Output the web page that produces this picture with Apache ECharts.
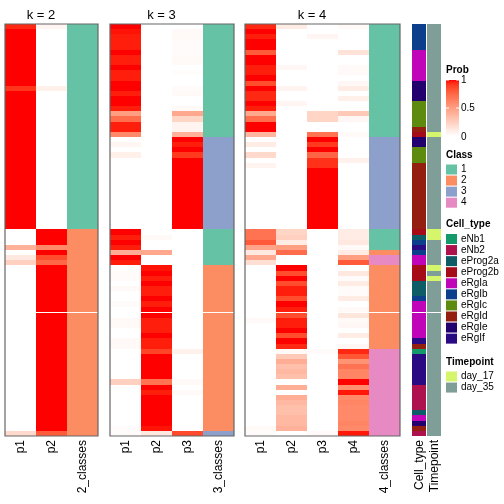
<!DOCTYPE html>
<html><head><meta charset="utf-8">
<script src="https://cdn.jsdelivr.net/npm/echarts@6/dist/echarts.min.js"></script>
<style>html,body{margin:0;padding:0;background:#fff}#c{width:504px;height:504px}</style>
</head><body><div id="c"></div>
<script>
// ---------- data ----------
const k2Cols = ['p1', 'p2', '2_classes'];
const k3Cols = ['p1', 'p2', 'p3', '3_classes'];
const k4Cols = ['p1', 'p2', 'p3', 'p4', '4_classes'];
const annCols = ['Cell_type', 'Timepoint'];
const panelTitles = ['k = 2', 'k = 3', 'k = 4'];

const k2_p1 = [0.95,1,1,1,1,1,1,1,1,1, 1,1,0.92,1,1,1,1,1,1,1, 1,1,1,1,1,1,1,1,1,1, 1,1,1,1,1,1,1,1,1,1,
  0,0,0,0.4,0,0.12,0.25,0,0,0, 0,0,0,0,0,0,0,0,0,0, 0,0,0,0,0,0,0,0,0,0, 0,0,0,0,0,0,0,0,0,0.2];
const k2_p2 = [0.05,0,0,0,0,0,0,0,0,0, 0,0,0.08,0,0,0,0,0,0,0, 0,0,0,0,0,0,0,0,0,0, 0,0,0,0,0,0,0,0,0,0,
  1,1,1,0.6,1,0.85,0.75,1,1,1, 1,1,1,1,1,1,1,1,1,1, 1,1,1,1,1,1,1,1,1,1, 1,1,1,1,1,1,1,1,1,0.8];
const k2_cls = [1,1,1,1,1,1,1,1,1,1, 1,1,1,1,1,1,1,1,1,1, 1,1,1,1,1,1,1,1,1,1, 1,1,1,1,1,1,1,1,1,1,
  2,2,2,2,2,2,2,2,2,2, 2,2,2,2,2,2,2,2,2,2, 2,2,2,2,2,2,2,2,2,2, 2,2,2,2,2,2,2,2,2,2];

const k3_p1 = [1,0.985,0.97,0.97,0.97,1,0.97,0.97,1,0.97, 0.97,1,1,0.97,1,1,0.97,0.5,0.72,0.97,
  0.97,0.6,0,0.05,0,0.08,0,0,0,0, 0,0,0,0,0,0,0,0,0,0,
  1,0.97,1,0.97,0.42,1,0.97,0,0.02,0.02, 0,0.03,0,0,0.02,0,0,0.03,0.03,0,
  0,0.03,0.03,0,0,0,0,0,0,0.25, 0,0,0,0,0,0,0,0,0.02,0.02];
const k3_p2 = [0,0,0,0,0,0,0,0,0,0, 0,0,0,0,0,0,0,0,0,0, 0,0,0,0,0,0,0,0,0,0, 0,0,0,0,0,0,0,0,0,0,
  0,0.03,0,0,0.45,0,0,0.985,1,0.97, 1,0.97,0.97,1,0.97,1,1,0.97,0.97,0.97,
  1,0.97,0.97,0.88,1,1,1,1,1,0.7, 1,0.97,1,1,1,1,1,1,0.985,0.12];
const k3_p3 = [0,0.03,0.03,0.02,0.02,0.02,0.03,0.03,0,0.01, 0,0,0.02,0.03,0,0,0.03,0.45,0.22,0.06,
  0.06,0.4,1,0.97,1,0.91,1,1,1,1, 1,1,1,1,1,1,1,1,1,1,
  0,0,0,0,0,0,0,0,0,0, 0,0,0,0,0,0,0,0,0,0,
  0,0,0,0.07,0,0,0,0,0,0.03, 0,0.03,0,0,0,0,0,0,0,0.86];
const k3_cls = [1,1,1,1,1,1,1,1,1,1, 1,1,1,1,1,1,1,1,1,1, 1,1,3,3,3,3,3,3,3,3, 3,3,3,3,3,3,3,3,3,3,
  1,1,1,1,1,1,1,2,2,2, 2,2,2,2,2,2,2,2,2,2, 2,2,2,2,2,2,2,2,2,2, 2,2,2,2,2,2,2,2,2,3];

const k4_p1 = [0.95,1,0.97,1,1,0.8,1,1,0.97,0.97, 1,0.85,1,0.95,0.95,1,0.97,0.45,0.72,1,
  1,0.38,0,0.1,0,0.2,0,0.06,0,0, 0,0,0,0,0,0,0,0,0,0,
  0.7,0.7,0.8,0.47,0.12,0.45,0.17,0,0,0, 0,0,0,0,0,0,0,0.03,0,0,
  0,0,0,0,0,0,0,0,0,0, 0,0,0,0,0,0,0,0,0.03,0.02];
const k4_p2 = [0.1,0,0,0,0,0,0,0,0.04,0, 0,0,0.06,0,0,0.05,0,0,0,0,
  0,0,0,0,0,0,0,0,0,0, 0,0,0,0,0,0,0,0,0,0,
  0.22,0.25,0.1,0.5,0.73,0,0,1,0.85,1, 0.85,0.97,0.97,0.85,1,0.97,0.85,0.97,0.97,1,
  0.85,1,0.95,0.03,0.28,0.42,0.33,0.37,0.33,0, 0.42,0,0.42,0.37,0.33,0.33,0.37,0.37,0.4,0];
const k4_p3 = [0,0,0.05,0,0,0,0,0,0,0, 0,0,0,0,0,0,0,0.22,0.22,0,
  0,0.7,1,0.91,1,0.76,0.93,0.93,1,1, 1,1,1,1,1,1,1,1,1,1,
  0,0,0,0,0,0,0,0,0,0, 0,0,0,0,0,0,0,0,0,0,
  0,0,0,0.02,0,0,0,0,0,0, 0,0,0,0,0,0,0,0,0,0.03];
const k4_p4 = [0.03,0,0,0,0,0.15,0,0,0.03,0.03, 0,0.04,0.1,0,0.08,0,0,0.28,0.04,0,
  0,0.03,0,0,0,0,0.07,0,0,0, 0,0,0,0,0,0,0,0,0,0,
  0.1,0.1,0.12,0.03,0.1,0.5,0.8,0,0.12,0.02, 0.1,0.02,0.02,0.1,0,0.03,0.13,0.03,0.04,0,
  0.1,0,0.04,0.95,0.82,0.55,0.7,0.62,0.62,1, 0.58,0.98,0.6,0.62,0.6,0.6,0.6,0.62,0.6,0.98];
const k4_cls = [1,1,1,1,1,1,1,1,1,1, 1,1,1,1,1,1,1,1,1,1, 1,1,3,3,3,3,3,3,3,3, 3,3,3,3,3,3,3,3,3,3,
  1,1,1,1,2,4,4,2,2,2, 2,2,2,2,2,2,2,2,2,2, 2,2,2,4,4,4,4,4,4,4, 4,4,4,4,4,4,4,4,4,4];

const cellType = [
  'eRgIb','eRgIb','eRgIb','eRgIb','eRgIb','eRgIa','eRgIa','eRgIa','eRgIa','eRgIa',
  'eRgIa','eRgIe','eRgIe','eRgIe','eRgIe','eRgIc','eRgIc','eRgIc','eRgIc','eRgIc',
  'eRgId','eProg2b','eRgIe','eRgIe','eRgIc','eRgIc','eRgIc','eRgId','eRgId','eRgId',
  'eRgId','eRgId','eRgId','eRgId','eRgId','eRgId','eRgId','eRgId','eRgId','eRgId',
  'eProg2b','eProg2a','eRgIb','eRgIf','eRgIb','eRgIa','eRgIa','eProg2b','eProg2b','eProg2b',
  'eProg2a','eProg2a','eProg2a','eRgIb','eRgIa','eRgIa','eRgIa','eRgIa','eRgIa','eRgIa',
  'eRgIa','eRgIf','eRgId','eNb1','eRgIf','eRgIf','eRgIf','eRgIf','eRgIf','eRgIf',
  'eNb2','eNb2','eNb2','eNb2','eNb2','eProg2a','eRgIa','eRgIe','eRgId','eNb2'];
const timepoint = [
  'day_35','day_35','day_35','day_35','day_35','day_35','day_35','day_35','day_35','day_35',
  'day_35','day_35','day_35','day_35','day_35','day_35','day_35','day_35','day_35','day_35',
  'day_35','day_17','day_35','day_35','day_35','day_35','day_35','day_35','day_35','day_35',
  'day_35','day_35','day_35','day_35','day_35','day_35','day_35','day_35','day_35','day_35',
  'day_17','day_17','day_35','day_35','day_35','day_35','day_35','day_17','day_35','day_17',
  'day_35','day_35','day_35','day_35','day_35','day_35','day_35','day_35','day_35','day_35',
  'day_35','day_35','day_35','day_35','day_35','day_35','day_35','day_35','day_35','day_35',
  'day_35','day_35','day_35','day_35','day_35','day_35','day_35','day_35','day_35','day_35'];

const classLevels = ['1', '2', '3', '4'];
const cellTypeLevels = ['eNb1','eNb2','eProg2a','eProg2b','eRgIa','eRgIb','eRgIc','eRgId','eRgIe','eRgIf'];
const timepointLevels = ['day_17', 'day_35'];
const probTicks = [1, 0.5, 0];

// ---------- styles ----------
const classColors = {1:'#66C2A5', 2:'#FC8D62', 3:'#8DA0CB', 4:'#E78AC3'};
const cellTypeColors = {eNb1:'#13996a', eNb2:'#ad114e', eProg2a:'#0e5c66', eProg2b:'#a60c18',
  eRgIa:'#c005b9', eRgIb:'#0b3f8c', eRgIc:'#5c8b0f', eRgId:'#931f10', eRgIe:'#22006e', eRgIf:'#2a0a82'};
const timepointColors = {day_17:'#d5f66b', day_35:'#7f9e97'};
const FONT = 'Liberation Sans, Arial, Helvetica, sans-serif';

// LAB interpolation white -> red
function toLin(c){c/=255;return c<=0.04045?c/12.92:Math.pow((c+0.055)/1.055,2.4);}
function fromLin(c){const v=c<=0.0031308?12.92*c:1.055*Math.pow(c,1/2.4)-0.055;return Math.round(Math.max(0,Math.min(1,v))*255);}
function rgb2lab(r,g,b){r=toLin(r);g=toLin(g);b=toLin(b);
  let x=(0.4124*r+0.3576*g+0.1805*b)/0.95047, y=(0.2126*r+0.7152*g+0.0722*b), z=(0.0193*r+0.1192*g+0.9505*b)/1.08883;
  const f=t=>t>0.008856?Math.cbrt(t):7.787*t+16/116; x=f(x);y=f(y);z=f(z);
  return [116*y-16, 500*(x-y), 200*(y-z)];}
function lab2rgb(L,a,bb){let y=(L+16)/116,x=a/500+y,z=y-bb/200;
  const fi=t=>t*t*t>0.008856?t*t*t:(t-16/116)/7.787; x=fi(x)*0.95047;y=fi(y);z=fi(z)*1.08883;
  const r=3.2406*x-1.5372*y-0.4986*z, g=-0.9689*x+1.8758*y+0.0415*z, b=0.0557*x-0.2040*y+1.0570*z;
  return 'rgb('+fromLin(r)+','+fromLin(g)+','+fromLin(b)+')';}
const LW=rgb2lab(255,255,255), LR=rgb2lab(255,0,0);
function probColor(v){v=Math.max(0,Math.min(1,v));return lab2rgb(LW[0]+(LR[0]-LW[0])*v, LW[1]+(LR[1]-LW[1])*v, LW[2]+(LR[2]-LW[2])*v);}

const NROW = 80, SPLIT = 56, GAP = 0.2;

function buildSeries(idx, probs, cls) {
  const data = [], colors = [];
  probs.forEach((arr, c) => arr.forEach((v, r) => { data.push([c, r, v]); colors.push(probColor(v)); }));
  cls.forEach((v, r) => { data.push([probs.length, r, v]); colors.push(classColors[v]); });
  return { type:'custom', xAxisIndex:idx, yAxisIndex:idx, data, renderItem: makeRender(colors, 0) };
}
function makeRender(colors, inset) {
  return function (params, api) {
    const c = api.value(0), r = api.value(1);
    const top = r + (r >= SPLIT ? GAP : 0);
    const a = api.coord([c, top]), b = api.coord([c, top + 1]);
    const bw = api.size([1, 0])[0];
    const x0 = Math.round(a[0] - bw / 2), x1 = Math.round(a[0] + bw / 2) - inset;
    const y0 = Math.round(a[1]), y1 = Math.round(b[1]);
    return { type:'rect', shape:{x:x0, y:y0, width:x1 - x0, height:y1 - y0}, style:{fill: colors[params.dataIndex]} };
  };
}

const annData = [], annColors = [];
cellType.forEach((v, r) => { annData.push([0, r]); annColors.push(cellTypeColors[v]); });
timepoint.forEach((v, r) => { annData.push([1, r]); annColors.push(timepointColors[v]); });

const grids = [
  {left:5, top:24, width:93, height:412},
  {left:110, top:24, width:124, height:412},
  {left:245, top:24, width:155, height:412},
  {left:412, top:24, width:30, height:412}
].map((g, i) => Object.assign(g, i < 3 ? {show:true, z:10, borderColor:'#666', borderWidth:1.2, backgroundColor:'transparent'} : {}));

const colSets = [k2Cols, k3Cols, k4Cols, annCols];
const xAxes = colSets.map((cols, i) => ({type:'category', gridIndex:i, data:cols, boundaryGap:true,
  axisLine:{show:false}, axisTick:{show:false}, splitLine:{show:false},
  axisLabel:{rotate:90, fontSize:12, margin:4, color:'#000', fontFamily:FONT, interval:0}}));
const yAxes = colSets.map((c, i) => ({type:'value', gridIndex:i, min:0, max:NROW + GAP, inverse:true, show:false,
  splitLine:{show:false}}));

const series = [
  buildSeries(0, [k2_p1, k2_p2], k2_cls),
  buildSeries(1, [k3_p1, k3_p2, k3_p3], k3_cls),
  buildSeries(2, [k4_p1, k4_p2, k4_p3, k4_p4], k4_cls),
  {type:'custom', xAxisIndex:3, yAxisIndex:3, data:annData, renderItem: makeRender(annColors, 1)}
];

// titles centred over probability columns
const titleCenters = [5 + 31, 110 + 31 * 1.5, 245 + 31 * 2];
const title = panelTitles.map((t, i) => ({text:t, left:titleCenters[i], top:4, textAlign:'center',
  textStyle:{fontSize:13, fontWeight:'normal', color:'#000', fontFamily:FONT}}));

// legends (graphic)
const LX = 446, graphic = [];
function ttl(text, y){graphic.push({type:'text', x:LX, y:y, style:{text, fontSize:10, fontWeight:'bold', fontFamily:FONT, fill:'#000', textVerticalAlign:'middle'}});}
function lab(text, x, y){graphic.push({type:'text', x:x, y:y, style:{text, fontSize:10, fontFamily:FONT, fill:'#000', textVerticalAlign:'middle'}});}
ttl('Prob', 70);
const barTop = 80, barH = 56;
const stops = [];
for (let i = 0; i <= 20; i++) stops.push({offset:i/20, color:probColor(1 - i/20)});
graphic.push({type:'rect', shape:{x:LX, y:barTop, width:13, height:barH}, style:{fill:new echarts.graphic.LinearGradient(0,0,0,1,stops)}});
probTicks.forEach(t => {
  const y = barTop + (1 - t) * barH;
  if (t > 0) {
    graphic.push({type:'line', shape:{x1:LX, y1:y, x2:LX+3, y2:y}, style:{stroke:'#fff', lineWidth:1}});
    graphic.push({type:'line', shape:{x1:LX+10, y1:y, x2:LX+13, y2:y}, style:{stroke:'#fff', lineWidth:1}});
  }
  lab(String(t), LX + 15, y + (t === 0 ? 1 : 0));
});
function discrete(title, titleY, levels, colorMap, startY) {
  ttl(title, titleY);
  levels.forEach((l, i) => {
    const y = startY + i * 11.07;
    graphic.push({type:'rect', shape:{x:LX, y:y, width:11, height:10}, style:{fill:colorMap[l]}});
    lab(l, LX + 15, y + 5);
  });
}
discrete('Class', 155, classLevels, classColors, 164.5);
discrete('Cell_type', 224, cellTypeLevels, cellTypeColors, 234);
discrete('Timepoint', 362, timepointLevels, timepointColors, 371.5);

const chart = echarts.init(document.getElementById('c'), null, {renderer:'canvas'});
chart.setOption({animation:false, backgroundColor:'#fff', title, grid:grids, xAxis:xAxes, yAxis:yAxes, series, graphic});
</script></body></html>
